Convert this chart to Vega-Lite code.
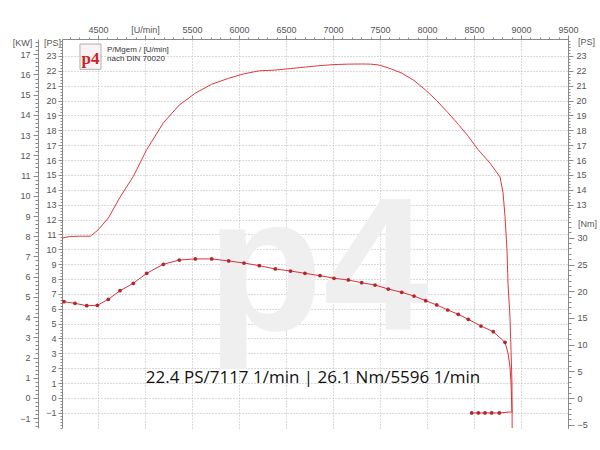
{
  "$schema": "https://vega.github.io/schema/vega-lite/v6.json",
  "width": 506,
  "height": 389,
  "autosize": {"type": "none"},
  "padding": {"left": 62, "top": 39, "right": 32, "bottom": 22},
  "background": "white",
  "config": {
    "font": "Liberation Sans",
    "view": {"stroke": null},
    "axis": {
      "labelFontSize": 9,
      "labelColor": "#555555",
      "domainColor": "#8a8a8a",
      "tickColor": "#8a8a8a",
      "gridColor": "#b5b5b5",
      "gridDash": [1, 2],
      "titleFontSize": 9,
      "titleFontWeight": "normal",
      "titleColor": "#555555",
      "labelFlush": false,
      "labelOverlap": false
    }
  },
  "datasets": {
    "power": [
      {"rpm": 4117, "ps": 10.75}, {"rpm": 4200, "ps": 10.86}, {"rpm": 4300, "ps": 10.88},
      {"rpm": 4420, "ps": 10.88}, {"rpm": 4500, "ps": 11.3}, {"rpm": 4610, "ps": 12.1},
      {"rpm": 4734, "ps": 13.5}, {"rpm": 4876, "ps": 14.9}, {"rpm": 5018, "ps": 16.7},
      {"rpm": 5195, "ps": 18.5}, {"rpm": 5365, "ps": 19.7}, {"rpm": 5535, "ps": 20.5},
      {"rpm": 5710, "ps": 21.1}, {"rpm": 5890, "ps": 21.5}, {"rpm": 6053, "ps": 21.8},
      {"rpm": 6216, "ps": 22.0}, {"rpm": 6386, "ps": 22.05}, {"rpm": 6548, "ps": 22.15},
      {"rpm": 6702, "ps": 22.25}, {"rpm": 6862, "ps": 22.35}, {"rpm": 7011, "ps": 22.42},
      {"rpm": 7163, "ps": 22.45}, {"rpm": 7305, "ps": 22.46}, {"rpm": 7400, "ps": 22.45},
      {"rpm": 7480, "ps": 22.4}, {"rpm": 7588, "ps": 22.2}, {"rpm": 7731, "ps": 21.85},
      {"rpm": 7862, "ps": 21.35}, {"rpm": 7986, "ps": 20.7}, {"rpm": 8103, "ps": 20.0},
      {"rpm": 8220, "ps": 19.2}, {"rpm": 8333, "ps": 18.4}, {"rpm": 8439, "ps": 17.6},
      {"rpm": 8543, "ps": 16.7}, {"rpm": 8670, "ps": 15.8}, {"rpm": 8777, "ps": 14.86},
      {"rpm": 8809, "ps": 13.8}, {"rpm": 8830, "ps": 12.2}, {"rpm": 8851, "ps": 9.95},
      {"rpm": 8862, "ps": 7.7}, {"rpm": 8883, "ps": 5.4}, {"rpm": 8894, "ps": 3.2},
      {"rpm": 8904, "ps": 1.0}, {"rpm": 8906, "ps": -2.1}
    ],
    "torque": [
      {"rpm": 4138, "nm": 18.03, "part": "run"}, {"rpm": 4255, "nm": 17.73, "part": "run"},
      {"rpm": 4380, "nm": 17.28, "part": "run"}, {"rpm": 4493, "nm": 17.36, "part": "run"},
      {"rpm": 4610, "nm": 18.48, "part": "run"}, {"rpm": 4734, "nm": 20.09, "part": "run"},
      {"rpm": 4876, "nm": 21.48, "part": "run"}, {"rpm": 5018, "nm": 23.35, "part": "run"},
      {"rpm": 5195, "nm": 25.04, "part": "run"}, {"rpm": 5365, "nm": 25.84, "part": "run"},
      {"rpm": 5535, "nm": 26.05, "part": "run"}, {"rpm": 5710, "nm": 26.05, "part": "run"},
      {"rpm": 5890, "nm": 25.66, "part": "run"}, {"rpm": 6053, "nm": 25.28, "part": "run"},
      {"rpm": 6216, "nm": 24.78, "part": "run"}, {"rpm": 6386, "nm": 24.16, "part": "run"},
      {"rpm": 6548, "nm": 23.78, "part": "run"}, {"rpm": 6702, "nm": 23.35, "part": "run"},
      {"rpm": 6862, "nm": 22.9, "part": "run"}, {"rpm": 7011, "nm": 22.42, "part": "run"},
      {"rpm": 7163, "nm": 22.1, "part": "run"}, {"rpm": 7305, "nm": 21.59, "part": "run"},
      {"rpm": 7447, "nm": 21.16, "part": "run"}, {"rpm": 7588, "nm": 20.41, "part": "run"},
      {"rpm": 7731, "nm": 19.79, "part": "run"}, {"rpm": 7862, "nm": 19.1, "part": "run"},
      {"rpm": 7986, "nm": 18.22, "part": "run"}, {"rpm": 8103, "nm": 17.42, "part": "run"},
      {"rpm": 8220, "nm": 16.48, "part": "run"}, {"rpm": 8333, "nm": 15.67, "part": "run"},
      {"rpm": 8439, "nm": 14.74, "part": "run"}, {"rpm": 8574, "nm": 13.48, "part": "run"},
      {"rpm": 8705, "nm": 12.42, "part": "run"}, {"rpm": 8830, "nm": 10.43, "part": "run"},
      {"rpm": 8862, "nm": 8.4, "part": "run"}, {"rpm": 8883, "nm": 5.8, "part": "run"},
      {"rpm": 8894, "nm": 2.8, "part": "run"}, {"rpm": 8904, "nm": -2.8, "part": "run"},
      {"rpm": 8475, "nm": -2.8, "part": "tail"}, {"rpm": 8546, "nm": -2.8, "part": "tail"},
      {"rpm": 8617, "nm": -2.8, "part": "tail"}, {"rpm": 8688, "nm": -2.8, "part": "tail"},
      {"rpm": 8769, "nm": -2.8, "part": "tail"}, {"rpm": 8892, "nm": -2.6, "part": "tail"}
    ]
  },
  "layer": [
    {
      "data": {"values": [{"label": "p4"}]},
      "mark": {"type": "text", "font": "Liberation Sans", "fontWeight": "bold", "fontSize": 190, "color": "#efefef", "align": "center", "baseline": "alphabetic"},
      "encoding": {
        "x": {"datum": 6840, "type": "quantitative", "scale": {"domain": [4117, 9500], "nice": false, "zero": false}, "axis": null},
        "y": {"datum": 4.6, "type": "quantitative", "scale": {"domain": [-2.02, 24.14], "nice": false, "zero": false}, "axis": null},
        "text": {"field": "label"}
      }
    },
    {
      "data": {"name": "power"},
      "mark": {"type": "line", "color": "#e0393e", "strokeWidth": 1, "clip": true},
      "encoding": {
        "x": {"field": "rpm", "type": "quantitative", "scale": {"domain": [4117, 9500], "nice": false, "zero": false},
          "axis": {"orient": "top", "values": [4500, 5000, 5500, 6000, 6500, 7000, 7500, 8000, 8500, 9000, 9500], "format": "d",
            "labelExpr": "datum.value == 5000 ? '[U/min]' : datum.label", "tickSize": 4, "labelPadding": 1, "grid": true, "title": null}},
        "y": {"field": "ps", "type": "quantitative", "scale": {"domain": [-2.02, 24.14], "nice": false, "zero": false},
          "axis": {"orient": "left", "values": [-1, 0, 1, 2, 3, 4, 5, 6, 7, 8, 9, 10, 11, 12, 13, 14, 15, 16, 17, 18, 19, 20, 21, 22, 23],
            "grid": true, "tickSize": 4, "labelPadding": 2, "title": "[PS]", "titleAngle": 0, "titleX": -10, "titleY": 3,
            "titleAlign": "center", "titleBaseline": "middle"}}
      }
    },
    {
      "data": {"name": "torque"},
      "mark": {"type": "line", "color": "#d8343a", "strokeWidth": 1, "clip": true},
      "encoding": {
        "x": {"field": "rpm", "type": "quantitative", "scale": {"domain": [4117, 9500], "nice": false, "zero": false}, "axis": null},
        "y": {"field": "nm", "type": "quantitative", "scale": {"domain": [-5.618, 67.23], "nice": false, "zero": false},
          "axis": {"orient": "right", "values": [-5, 0, 5, 10, 15, 20, 25, 30], "tickSize": 6, "labelPadding": 3, "grid": false,
            "title": "[Nm]", "titleAngle": 0, "titleX": 19, "titleY": 184, "titleAlign": "center", "titleBaseline": "middle"}},
        "detail": {"field": "part"}
      }
    },
    {
      "data": {"name": "torque"},
      "transform": [{"filter": "datum.part == 'tail' ? datum.rpm < 8800 : datum.rpm <= 8830"}],
      "mark": {"type": "circle", "size": 14, "color": "#b3262b", "opacity": 1},
      "encoding": {
        "x": {"field": "rpm", "type": "quantitative", "scale": {"domain": [4117, 9500], "nice": false, "zero": false}, "axis": null},
        "y": {"field": "nm", "type": "quantitative", "scale": {"domain": [-5.618, 67.23], "nice": false, "zero": false}, "axis": null}
      }
    },
    {
      "data": {"values": [{}]},
      "mark": {"type": "point", "opacity": 0},
      "encoding": {
        "y": {"datum": 0, "type": "quantitative", "scale": {"domain": [-1.486, 17.755], "nice": false, "zero": false},
          "axis": {"orient": "left", "offset": 24, "values": [-1, 0, 1, 2, 3, 4, 5, 6, 7, 8, 9, 10, 11, 12, 13, 14, 15, 16, 17],
            "tickSize": 5, "labelPadding": 3, "grid": false, "title": "[KW]", "titleAngle": 0, "titleX": -16, "titleY": 3,
            "titleAlign": "center", "titleBaseline": "middle"}}
      }
    },
    {
      "data": {"values": [{}]},
      "mark": {"type": "point", "opacity": 0},
      "encoding": {
        "y": {"datum": 0, "type": "quantitative", "scale": {"domain": [-2.02, 24.14], "nice": false, "zero": false},
          "axis": {"orient": "right", "values": [13, 14, 15, 16, 17, 18, 19, 20, 21, 22, 23], "tickSize": 5, "labelPadding": 3,
            "grid": false, "title": "[PS]", "titleAngle": 0, "titleX": 18, "titleY": 2, "titleAlign": "center", "titleBaseline": "middle"}}
      }
    },
    {
      "data": {"values": [{}]},
      "mark": {"type": "point", "opacity": 0},
      "encoding": {
        "y": {"datum": 0, "type": "quantitative", "scale": {"domain": [-2.02, 24.14], "nice": false, "zero": false},
          "axis": {"orient": "left", "tickCount": 130, "labels": false, "domain": false, "grid": false, "tickSize": 2, "title": null}}
      }
    },
    {
      "data": {"values": [{}]},
      "mark": {"type": "point", "opacity": 0},
      "encoding": {
        "y": {"datum": 0, "type": "quantitative", "scale": {"domain": [-1.486, 17.755], "nice": false, "zero": false},
          "axis": {"orient": "left", "offset": 24, "tickCount": 96, "labels": false, "domain": false, "grid": false, "tickSize": 3, "title": null}}
      }
    },
    {
      "data": {"values": [{}]},
      "mark": {"type": "point", "opacity": 0},
      "encoding": {
        "y": {"datum": 0, "type": "quantitative", "scale": {"domain": [-5.618, 67.23], "nice": false, "zero": false},
          "axis": {"orient": "right", "values": [-5, -4, -3, -2, -1, 0, 1, 2, 3, 4, 5, 6, 7, 8, 9, 10, 11, 12, 13, 14, 15, 16, 17, 18, 19, 20, 21, 22, 23, 24, 25, 26, 27, 28, 29, 30, 31, 32, 33],
            "labels": false, "domain": false, "grid": false, "tickSize": 3, "title": null}}
      }
    },
    {
      "data": {"values": [{}]},
      "mark": {"type": "point", "opacity": 0},
      "encoding": {
        "y": {"datum": 0, "type": "quantitative", "scale": {"domain": [-2.02, 24.14], "nice": false, "zero": false},
          "axis": {"orient": "right", "values": [12.2, 12.4, 12.6, 12.8, 13, 13.2, 13.4, 13.6, 13.8, 14, 14.2, 14.4, 14.6, 14.8, 15, 15.2, 15.4, 15.6, 15.8, 16, 16.2, 16.4, 16.6, 16.8, 17, 17.2, 17.4, 17.6, 17.8, 18, 18.2, 18.4, 18.6, 18.8, 19, 19.2, 19.4, 19.6, 19.8, 20, 20.2, 20.4, 20.6, 20.8, 21, 21.2, 21.4, 21.6, 21.8, 22, 22.2, 22.4, 22.6, 22.8, 23, 23.2, 23.4, 23.6, 23.8, 24],
            "labels": false, "domain": false, "grid": false, "tickSize": 2, "title": null}}
      }
    },
    {
      "data": {"values": [{}]},
      "mark": {"type": "point", "opacity": 0},
      "encoding": {
        "x": {"datum": 5000, "type": "quantitative", "scale": {"domain": [4117, 9500], "nice": false, "zero": false},
          "axis": {"orient": "top", "tickCount": 54, "labels": false, "domain": false, "grid": false, "tickSize": 2, "title": null}}
      }
    },
    {
      "data": {"values": [{}]},
      "mark": {"type": "rect", "fill": "#fbf3f3", "stroke": "#b0b0b0", "strokeWidth": 1},
      "encoding": {
        "x": {"datum": 4308, "type": "quantitative", "scale": {"domain": [4117, 9500], "nice": false, "zero": false}, "axis": null},
        "x2": {"datum": 4532},
        "y": {"datum": 22.1, "type": "quantitative", "scale": {"domain": [-2.02, 24.14], "nice": false, "zero": false}, "axis": null},
        "y2": {"datum": 23.8}
      }
    },
    {
      "data": {"values": [{"label": "p4"}]},
      "mark": {"type": "text", "font": "Liberation Serif", "fontWeight": "bold", "fontSize": 17, "color": "#c8252b", "align": "center", "baseline": "middle"},
      "encoding": {
        "x": {"datum": 4420, "type": "quantitative", "scale": {"domain": [4117, 9500], "nice": false, "zero": false}, "axis": null},
        "y": {"datum": 22.8, "type": "quantitative", "scale": {"domain": [-2.02, 24.14], "nice": false, "zero": false}, "axis": null},
        "text": {"field": "label"}
      }
    },
    {
      "data": {"values": [{"label": "P/Mgem / [U/min]", "row": 23.4}, {"label": "nach DIN 70020", "row": 22.8}]},
      "mark": {"type": "text", "font": "Liberation Sans", "fontSize": 8, "color": "#333333", "align": "left", "baseline": "middle"},
      "encoding": {
        "x": {"datum": 4596, "type": "quantitative", "scale": {"domain": [4117, 9500], "nice": false, "zero": false}, "axis": null},
        "y": {"field": "row", "type": "quantitative", "scale": {"domain": [-2.02, 24.14], "nice": false, "zero": false}, "axis": null},
        "text": {"field": "label"}
      }
    },
    {
      "data": {"values": [{"label": "22.4 PS/7117 1/min | 26.1 Nm/5596 1/min"}]},
      "mark": {"type": "text", "font": "Open Sans", "fontSize": 17, "color": "#111111", "align": "center", "baseline": "middle"},
      "encoding": {
        "x": {"datum": 6787, "type": "quantitative", "scale": {"domain": [4117, 9500], "nice": false, "zero": false}, "axis": null},
        "y": {"datum": 1.35, "type": "quantitative", "scale": {"domain": [-2.02, 24.14], "nice": false, "zero": false}, "axis": null},
        "text": {"field": "label"}
      }
    }
  ],
  "resolve": {"scale": {"y": "independent"}, "axis": {"x": "independent", "y": "independent"}}
}
